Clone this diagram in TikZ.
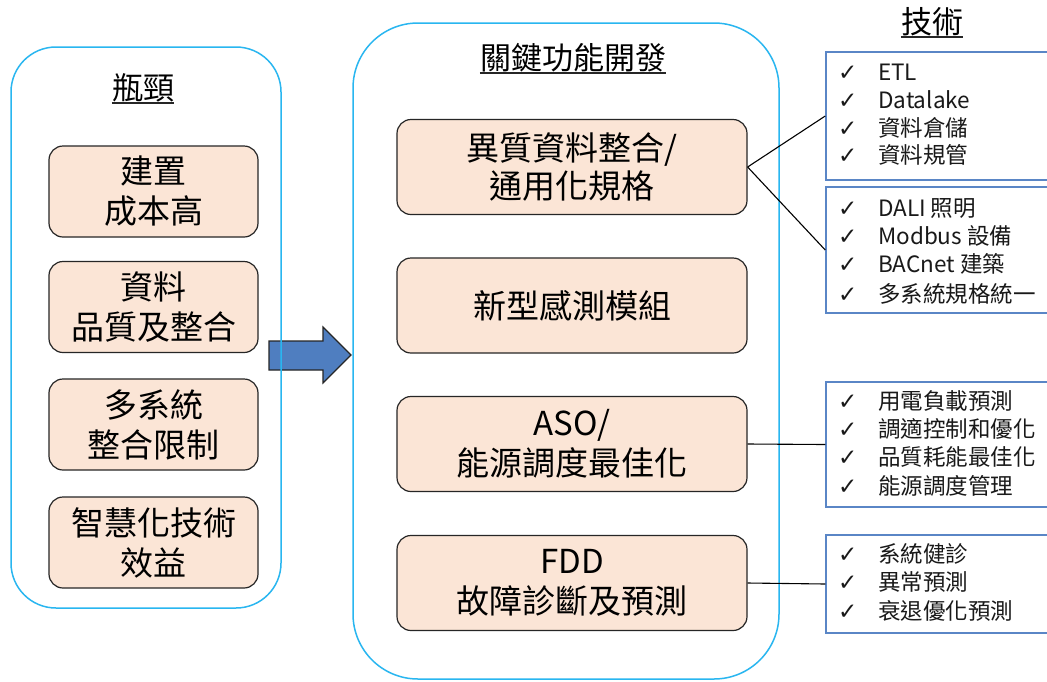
\documentclass[tikz,border=0pt]{standalone}
\usepackage{fontspec}
\setmainfont{Noto Sans CJK TC}
\newfontfamily\symfont{DejaVu Sans}
\definecolor{skyline}{HTML}{29B6F0}
\definecolor{peach}{HTML}{FBE5D6}
\definecolor{boxline}{HTML}{262626}
\definecolor{techblue}{HTML}{5A86C6}
\definecolor{arrowfill}{HTML}{4F7EC0}
\newcommand{\ck}{\makebox[40pt][l]{\symfont\fontsize{23}{26}\selectfont ✓}}
\tikzset{
  outerbox/.style={draw=skyline, line width=1.5pt, rectangle},
  pbox/.style={draw=boxline, fill=peach, line width=1.2pt, rounded corners=14pt,
    rectangle, align=center, inner sep=0pt,
    font=\fontsize{33}{40}\selectfont},
  tbox/.style={draw=techblue, line width=1.5pt, rectangle, inner sep=0pt},
  titletext/.style={inner sep=0pt, text height=0.88em, text depth=0.12em,
    font=\fontsize{31}{34}\selectfont},
  techline/.style={anchor=west, inner sep=0pt, text height=0.88em, text depth=0.12em,
    font=\fontsize{22.5}{26}\selectfont, text=black!90},
  uline/.style={line width=1.6pt, black!85},
  conn/.style={line width=1.1pt, black}
}
\begin{document}
\begin{tikzpicture}[x=1pt,y=-1pt]
\useasboundingbox (0,0) rectangle (1047,681);
\clip (0,0) rectangle (1047,681);
\fill[white] (0,0) rectangle (1047,681);

% arrow (beneath the outer boxes)
\draw[fill=arrowfill, draw=boxline, line width=1.2pt, line join=miter]
  (269,341) -- (323,341) -- (323,327) -- (351,355) -- (323,383) -- (323,370) -- (269,370) -- cycle;

% outer boxes
\node[outerbox, rounded corners=45pt, minimum width=270pt, minimum height=561pt] (left) at (146,327.5) {};
\node[outerbox, rounded corners=65pt, minimum width=426pt, minimum height=656pt] (mid) at (566,351) {};

% titles
\node[titletext] (t1) at (143,96) {瓶頸};
\draw[uline] ([yshift=-3pt]t1.base west) -- ([yshift=-3pt]t1.base east);
\node[titletext] (t2) at (573,66) {關鍵功能開發};
\draw[uline] ([yshift=-3pt]t2.base west) -- ([yshift=-3pt]t2.base east);
\node[titletext] (t3) at (932,30) {技術};
\draw[uline] ([yshift=-3pt]t3.base west) -- ([yshift=-3pt]t3.base east);

% left boxes
\node[pbox, minimum width=209pt, minimum height=91pt] (l1) at (153.5,191.5) {建置\\成本高};
\node[pbox, minimum width=209pt, minimum height=91pt] (l2) at (153.5,307) {資料\\品質及整合};
\node[pbox, minimum width=209pt, minimum height=91pt] (l3) at (153.5,424.5) {多系統\\整合限制};
\node[pbox, minimum width=209pt, minimum height=91pt] (l4) at (153.5,542.5) {智慧化技術\\效益};

% middle boxes
\node[pbox, minimum width=350pt, minimum height=95pt, font=\fontsize{33}{38}\selectfont] (m1) at (572,167) {\raisebox{-4pt}{異質資料整合/}\\\raisebox{-4pt}{通用化規格}};
\node[pbox, minimum width=350pt, minimum height=95pt] (m2) at (572,305.5) {新型感測模組};
\node[pbox, minimum width=350pt, minimum height=95pt] (m3) at (572,444) {ASO/\\能源調度最佳化};
\node[pbox, minimum width=350pt, minimum height=95pt] (m4) at (572,583) {FDD\\故障診斷及預測};

% tech boxes
\node[tbox, minimum width=240pt, minimum height=128pt] (r1) at (946,116) {};
\node[tbox, minimum width=240pt, minimum height=126pt] (r2) at (946,250) {};
\node[tbox, minimum width=240pt, minimum height=125pt] (r3) at (946,444.5) {};
\node[tbox, minimum width=240pt, minimum height=98pt] (r4) at (946,584) {};

% tech lines
\node[techline] (a1) at (838,77) {\ck ETL};
\node[techline] (a2) at (838,105) {\ck Datalake};
\node[techline] (a3) at (838,132.5) {\ck 資料倉儲};
\node[techline] (a4) at (838,160) {\ck 資料規管};

\node[techline] (b1) at (838,213) {\ck DALI 照明};
\node[techline] (b2) at (838,241) {\ck Modbus 設備};
\node[techline] (b3) at (838,269) {\ck BACnet 建築};
\node[techline] (b4) at (838,299) {\ck 多系統規格統一};

\node[techline] (c1) at (838,406) {\ck 用電負載預測};
\node[techline] (c2) at (838,434) {\ck 調適控制和優化};
\node[techline] (c3) at (838,462) {\ck 品質耗能最佳化};
\node[techline] (c4) at (838,491) {\ck 能源調度管理};

\node[techline] (d1) at (838,559) {\ck 系統健診};
\node[techline] (d2) at (838,587) {\ck 異常預測};
\node[techline] (d3) at (838,616) {\ck 衰退優化預測};

% connectors
\draw[conn] (m1.east) -- (r1.west);
\draw[conn] (m1.east) -- (r2.west);
\draw[conn] (m3.east) -- (r3.west);
\draw[conn] (m4.east) -- (r4.west);
\end{tikzpicture}
\end{document}
